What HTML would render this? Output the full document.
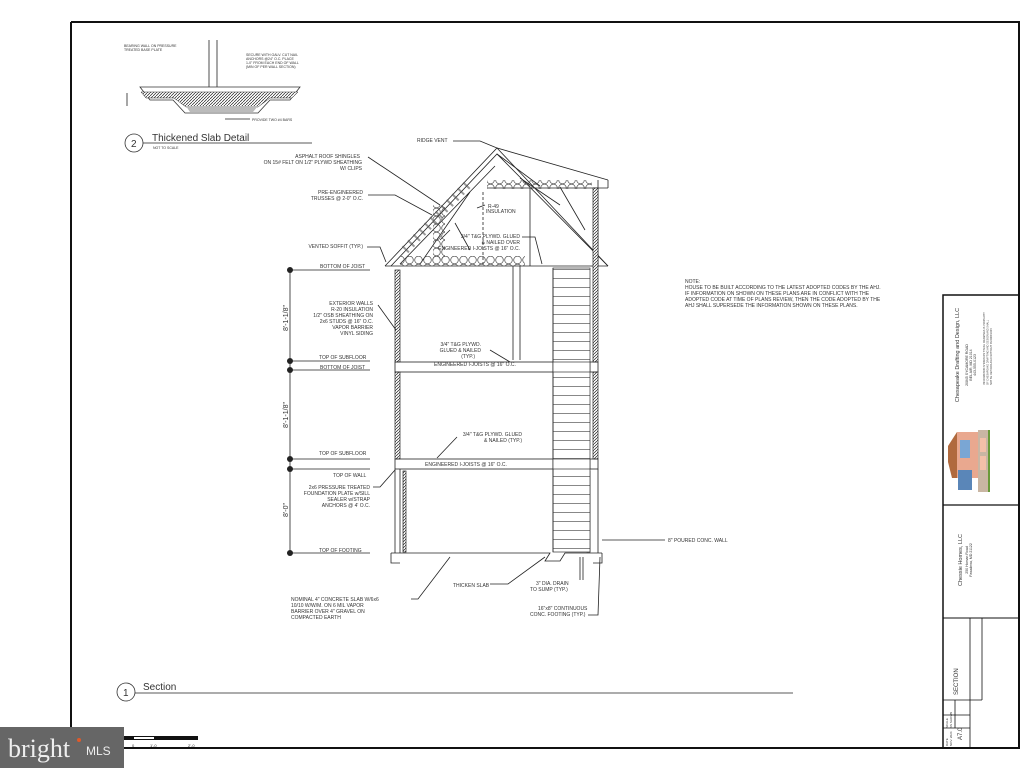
<!DOCTYPE html>
<html><head><meta charset="utf-8"><style>
html,body{margin:0;padding:0;background:#fff;}
svg{display:block;font-family:"Liberation Sans",sans-serif;}
.t{font-size:5px;fill:#333;}
.l{stroke:#222;fill:none;stroke-width:0.8;}
.th{stroke:#111;fill:none;stroke-width:2;}
</style></head><body>
<svg width="1024" height="768" viewBox="0 0 1024 768" xmlns="http://www.w3.org/2000/svg">
<defs>
<pattern id="hatch" width="3" height="3" patternUnits="userSpaceOnUse"><rect width="3" height="3" fill="#fff"/><path d="M0 3L3 0" stroke="#222" stroke-width="0.7"/></pattern>
<pattern id="ins" width="9" height="8" patternUnits="userSpaceOnUse"><circle cx="4.5" cy="4" r="3.8" fill="none" stroke="#444" stroke-width="0.7"/></pattern>
<pattern id="tread" width="10" height="9" patternUnits="userSpaceOnUse"><rect width="10" height="9" fill="#fff"/><path d="M0 8.5H10" stroke="#555" stroke-width="0.7"/></pattern>
</defs>
<rect width="1024" height="768" fill="#fff"/>
<path d="M71 22V748H1019V22H71" class="th"/>
<rect x="943" y="295" width="76" height="453" fill="none" stroke="#111" stroke-width="1.5"/>
<line x1="943" y1="505" x2="1019" y2="505" stroke="#111" stroke-width="1.2"/>
<line x1="943" y1="618" x2="1019" y2="618" stroke="#111" stroke-width="1"/>
<line x1="970" y1="618" x2="970" y2="748" stroke="#111" stroke-width="0.8"/>
<line x1="982" y1="618" x2="982" y2="700" stroke="#111" stroke-width="0.8"/>
<line x1="943" y1="715" x2="970" y2="715" stroke="#111" stroke-width="0.8"/>
<line x1="943" y1="728" x2="970" y2="728" stroke="#111" stroke-width="0.8"/>
<line x1="943" y1="700" x2="982" y2="700" stroke="#111" stroke-width="0.8"/>
<line x1="955" y1="700" x2="955" y2="728" stroke="#111" stroke-width="0.8"/>
<g transform="translate(959,355) rotate(-90)"><text class="t" style="font-size:5.5px" x="0" y="0" text-anchor="middle">Chesapeake Drafting and Design, LLC</text></g>
<g transform="translate(968,365) rotate(-90)"><text class="t" style="font-size:3.5px" x="0" y="0" text-anchor="middle">20845 SYCAMORE ROAD</text><text class="t" style="font-size:3.5px" x="0" y="4" text-anchor="middle">BEL AIR, MD 21014</text><text class="t" style="font-size:3.5px" x="0" y="8" text-anchor="middle">443-555-0123</text></g>
<g transform="translate(985,385) rotate(-90)"><text class="t" style="font-size:2.5px" x="0" y="0">INFORMATION SHOWN ON THESE DRAWINGS IS PROPERTY</text><text class="t" style="font-size:2.5px" x="0" y="3.5">OF CHESAPEAKE DRAFTING AND DESIGN AND SHALL</text><text class="t" style="font-size:2.5px" x="0" y="7">NOT BE REPRODUCED WITHOUT PERMISSION</text></g>
<g>
<rect x="957" y="432" width="22" height="46" fill="#e9a88f"/>
<polygon points="957,432 957,478 952,478 948,462 948,446" fill="#b06a3e"/>
<rect x="978" y="430" width="10" height="62" fill="#c9b6a3"/>
<rect x="980" y="438" width="6" height="14" fill="#f3c0a8"/>
<rect x="980" y="456" width="6" height="14" fill="#f3c0a8"/>
<rect x="958" y="470" width="14" height="20" fill="#5a86b8"/>
<rect x="960" y="440" width="10" height="18" fill="#7aa6d4"/>
<line x1="989" y1="430" x2="989" y2="492" stroke="#6a9a3a" stroke-width="2"/>
</g>
<g transform="translate(962,560) rotate(-90)"><text class="t" style="font-size:5.5px" x="0" y="0" text-anchor="middle">Chessie Homes, LLC</text><text class="t" style="font-size:3.5px" x="0" y="6" text-anchor="middle">250 Homan Road</text><text class="t" style="font-size:3.5px" x="0" y="10" text-anchor="middle">Pasadena, MD 21122</text></g>
<g transform="translate(958,695) rotate(-90)"><text class="t" style="font-size:6px" x="0" y="0">SECTION</text></g>
<g transform="translate(948,746) rotate(-90)"><text class="t" style="font-size:3px" x="0" y="0">DATE</text><text class="t" style="font-size:3px" x="0" y="4">NOV. 2024</text></g>
<g transform="translate(948,728) rotate(-90)"><text class="t" style="font-size:3px" x="0" y="0">SCALE</text><text class="t" style="font-size:3px" x="0" y="4">AS SHOWN</text></g>
<g transform="translate(962,740) rotate(-90)"><text class="t" style="font-size:6px" x="0" y="0">A7.0</text></g>

<text class="t" x="685" y="283">NOTE:</text>
<text class="t" x="685" y="289">HOUSE TO BE BUILT ACCORDING TO THE LATEST ADOPTED CODES BY THE AHJ.</text>
<text class="t" x="685" y="295">IF INFORMATION ON SHOWN ON THESE PLANS ARE IN CONFLICT WITH THE</text>
<text class="t" x="685" y="301">ADOPTED CODE AT TIME OF PLANS REVIEW, THEN THE CODE ADOPTED BY THE</text>
<text class="t" x="685" y="307">AHJ SHALL SUPERSEDE THE INFORMATION SHOWN ON THESE PLANS.</text>

<line x1="209" y1="40" x2="209" y2="87" class="l"/><line x1="217" y1="40" x2="217" y2="87" class="l"/>
<path d="M140 87H300L290 100H270L258 113H185L173 100H150Z" fill="#fff" stroke="#333" stroke-width="0.8"/>
<path d="M141 92H298L292 98H270L258 107H186L174 98H146Z" fill="url(#hatch)" stroke="#333" stroke-width="0.5"/>
<path d="M186 106H258L253 112H190Z" fill="#bbb"/>
<line x1="127" y1="93" x2="127" y2="106" class="l"/>
<text class="t" style="font-size:3.5px" x="124" y="47">BEARING WALL ON PRESSURE</text>
<text class="t" style="font-size:3.5px" x="124" y="51">TREATED BASE PLATE</text>
<text class="t" style="font-size:3.5px" x="246" y="56">SECURE WITH GALV. CUT NAIL</text>
<text class="t" style="font-size:3.5px" x="246" y="60">ANCHORS @24" O.C. PLACE</text>
<text class="t" style="font-size:3.5px" x="246" y="64">1-0" FROM EACH END OF WALL</text>
<text class="t" style="font-size:3.5px" x="246" y="68">(MIN OF PER WALL SECTION)</text>
<text class="t" style="font-size:3.5px" x="252" y="121">PROVIDE TWO #4 BARS</text>
<line x1="225" y1="119" x2="250" y2="119" class="l"/>
<circle cx="134" cy="143" r="9" fill="none" stroke="#333" stroke-width="0.8"/>
<text x="131" y="147" style="font-size:10px;fill:#333">2</text>
<text x="152" y="141" style="font-size:10px;fill:#333">Thickened Slab Detail</text>
<line x1="143" y1="143" x2="312" y2="143" class="l"/>
<text class="t" style="font-size:3.5px" x="153" y="149">NOT TO SCALE</text>

<line x1="290" y1="270" x2="290" y2="553" class="l"/>
<g fill="#222">
<circle cx="290" cy="270" r="3"/><circle cx="290" cy="361" r="3"/><circle cx="290" cy="370" r="3"/><circle cx="290" cy="459" r="3"/><circle cx="290" cy="469" r="3"/><circle cx="290" cy="553" r="3"/>
</g>
<g class="l" stroke-width="0.6">
<path d="M287 270H370M287 361H370M287 370H370M287 459H370M287 469H370M287 553H370"/>
</g>
<g transform="translate(290,318) rotate(-90)"><text x="0" y="-2" style="font-size:7px;fill:#333" text-anchor="middle">8'-1-1/8"</text></g>
<g transform="translate(290,415) rotate(-90)"><text x="0" y="-2" style="font-size:7px;fill:#333" text-anchor="middle">8'-1-1/8"</text></g>
<g transform="translate(290,510) rotate(-90)"><text x="0" y="-2" style="font-size:7px;fill:#333" text-anchor="middle">8'-0"</text></g>
<text class="t" x="320" y="268">BOTTOM OF JOIST</text>
<text class="t" x="319" y="359">TOP OF SUBFLOOR</text>
<text class="t" x="320" y="369">BOTTOM OF JOIST</text>
<text class="t" x="319" y="455">TOP OF SUBFLOOR</text>
<text class="t" x="333" y="477">TOP OF WALL</text>
<text class="t" x="319" y="552">TOP OF FOOTING</text>

<g class="l">
<path d="M385 266L497 148L608 180"/>
<path d="M391 266L497 154L608 266"/>
<path d="M497 148L608 266"/>
<path d="M400 264L495 166M420 264L470 192M440 240L450 230M455 223L470 250"/>
<path d="M497 154L540 186M520 178L560 205M560 187L585 230"/>
<path d="M385 266L608 266"/>
<path d="M598 180V266M608 180V188M593 188H608"/>
<path d="M487 188H598"/>
<path d="M530 188V266"/>
<path d="M513 266V360M520 266V360"/>
</g>
<rect x="400" y="256" width="125" height="10" fill="url(#ins)"/>
<rect x="487" y="180" width="105" height="9" fill="url(#ins)"/>
<rect x="433" y="205" width="12" height="55" fill="url(#ins)"/>
<path d="M405 250L470 182" stroke="#555" stroke-width="9" fill="none" stroke-dasharray="2 6" opacity="0.6"/>
<line x1="483" y1="192" x2="483" y2="264" class="l" stroke-dasharray="3 2"/>
<rect x="395" y="270" width="5" height="92" fill="url(#hatch)" stroke="#222" stroke-width="0.7"/>
<rect x="593" y="188" width="5" height="174" fill="url(#hatch)" stroke="#222" stroke-width="0.7"/>
<rect x="395" y="372" width="5" height="87" fill="url(#hatch)" stroke="#222" stroke-width="0.7"/>
<rect x="593" y="372" width="5" height="87" fill="url(#hatch)" stroke="#222" stroke-width="0.7"/>
<rect x="403" y="471" width="3" height="81" fill="url(#hatch)" stroke="#222" stroke-width="0.7"/>
<rect x="587" y="471" width="3" height="81" fill="url(#hatch)" stroke="#222" stroke-width="0.7"/>
<g class="l">
<rect x="395" y="362" width="203" height="10"/>
<rect x="395" y="459" width="203" height="10"/>
<path d="M395 469V553M598 469V553M400 469V553"/>
<path d="M391 553H550L545 561H560L565 553H602"/>
<path d="M391 553V563H400M593 563H602V553"/>
</g>
<rect x="553" y="268" width="37" height="284" fill="url(#tread)" stroke="#333" stroke-width="0.7"/>
<line x1="553" y1="268" x2="553" y2="552" stroke="#333" stroke-width="1"/>
<rect x="553" y="362" width="37" height="10" fill="#fff" stroke="#333" stroke-width="0.7"/>
<rect x="553" y="459" width="37" height="10" fill="#fff" stroke="#333" stroke-width="0.7"/>
<text class="t" x="434" y="366">ENGINEERED I-JOISTS @ 16" O.C.</text>
<text class="t" x="425" y="466">ENGINEERED I-JOISTS @ 16" O.C.</text>

<g class="l" stroke-width="0.6">
<path d="M453 141H480L497 148"/>
<path d="M368 157L440 205"/>
<path d="M368 195H395L432 215"/>
<path d="M367 247H380L386 262"/>
<path d="M477 208L485 205"/>
<path d="M522 237H535L542 264"/>
<path d="M378 305L396 330"/>
<path d="M490 350L510 362"/>
<path d="M457 437L437 458"/>
<path d="M373 487H380L395 470"/>
<path d="M602 540H665"/>
<path d="M411 599H418L450 557"/>
<path d="M490 584H508L545 557"/>
<path d="M580 580V557M583 580V557M588 615H598L600 557"/>
</g>
<text class="t" x="417" y="142">RIDGE VENT</text>
<text class="t" x="360" y="158" text-anchor="end">ASPHALT ROOF SHINGLES</text>
<text class="t" x="362" y="164" text-anchor="end">ON 15# FELT ON 1/2" PLYWD SHEATHING</text>
<text class="t" x="362" y="170" text-anchor="end">W/ CLIPS</text>
<text class="t" x="363" y="194" text-anchor="end">PRE-ENGINEERED</text>
<text class="t" x="363" y="200" text-anchor="end">TRUSSES @ 2-0" O.C.</text>
<text class="t" x="363" y="248" text-anchor="end">VENTED SOFFIT (TYP.)</text>
<text class="t" x="488" y="208">R-49</text>
<text class="t" x="486" y="213">INSULATION</text>
<text class="t" x="520" y="238" text-anchor="end">3/4" T&amp;G PLYWD. GLUED</text>
<text class="t" x="520" y="244" text-anchor="end">&amp; NAILED OVER</text>
<text class="t" x="520" y="250" text-anchor="end">ENGINEERED I-JOISTS @ 16" O.C.</text>
<text class="t" x="373" y="305" text-anchor="end">EXTERIOR WALLS</text>
<text class="t" x="373" y="311" text-anchor="end">R-20 INSULATION</text>
<text class="t" x="373" y="317" text-anchor="end">1/2" OSB SHEATHING ON</text>
<text class="t" x="373" y="323" text-anchor="end">2x6 STUDS @ 16" O.C.</text>
<text class="t" x="373" y="329" text-anchor="end">VAPOR BARRIER</text>
<text class="t" x="373" y="335" text-anchor="end">VINYL SIDING</text>
<text class="t" x="481" y="346" text-anchor="end">3/4" T&amp;G PLYWD.</text>
<text class="t" x="481" y="352" text-anchor="end">GLUED &amp; NAILED</text>
<text class="t" x="475" y="358" text-anchor="end">(TYP.)</text>
<text class="t" x="522" y="436" text-anchor="end">3/4" T&amp;G PLYWD. GLUED</text>
<text class="t" x="522" y="442" text-anchor="end">&amp; NAILED (TYP.)</text>
<text class="t" x="370" y="489" text-anchor="end">2x6 PRESSURE TREATED</text>
<text class="t" x="370" y="495" text-anchor="end">FOUNDATION PLATE w/SILL</text>
<text class="t" x="370" y="501" text-anchor="end">SEALER w/STRAP</text>
<text class="t" x="370" y="507" text-anchor="end">ANCHORS @ 4' O.C.</text>
<text class="t" x="668" y="542">8" POURED CONC. WALL</text>
<text class="t" x="453" y="587">THICKEN SLAB</text>
<text class="t" x="536" y="585">3" DIA. DRAIN</text>
<text class="t" x="530" y="591">TO SUMP (TYP.)</text>
<text class="t" x="291" y="601">NOMINAL 4" CONCRETE SLAB W/6x6</text>
<text class="t" x="291" y="607">10/10 W/W/M. ON 6 MIL VAPOR</text>
<text class="t" x="291" y="613">BARRIER OVER 4" GRAVEL ON</text>
<text class="t" x="291" y="619">COMPACTED EARTH</text>
<text class="t" x="538" y="610">16"x8" CONTINUOUS</text>
<text class="t" x="530" y="616">CONC. FOOTING (TYP.)</text>

<circle cx="126" cy="692" r="9" fill="none" stroke="#333" stroke-width="0.8"/>
<text x="123" y="696" style="font-size:10px;fill:#333">1</text>
<text x="143" y="690" style="font-size:10px;fill:#333">Section</text>
<line x1="135" y1="693" x2="793" y2="693" class="l"/>
<rect x="124" y="736" width="74" height="4" fill="#111"/>
<rect x="134" y="737" width="20" height="2" fill="#fff"/>
<text class="t" style="font-size:4px" x="132" y="747">0</text>
<text class="t" style="font-size:4px" x="150" y="747">1'-0</text>
<text class="t" style="font-size:4px" x="188" y="747">2'-0</text>
<rect x="0" y="727" width="124" height="41" fill="#666"/>
<text x="8" y="757" style="font-family:'Liberation Serif',serif;font-size:26px;fill:#eee">bright</text>
<circle cx="79" cy="740" r="2" fill="#e05a2a"/>
<text x="86" y="755" style="font-size:12px;fill:#eee">MLS</text>
</svg>
</body></html>
